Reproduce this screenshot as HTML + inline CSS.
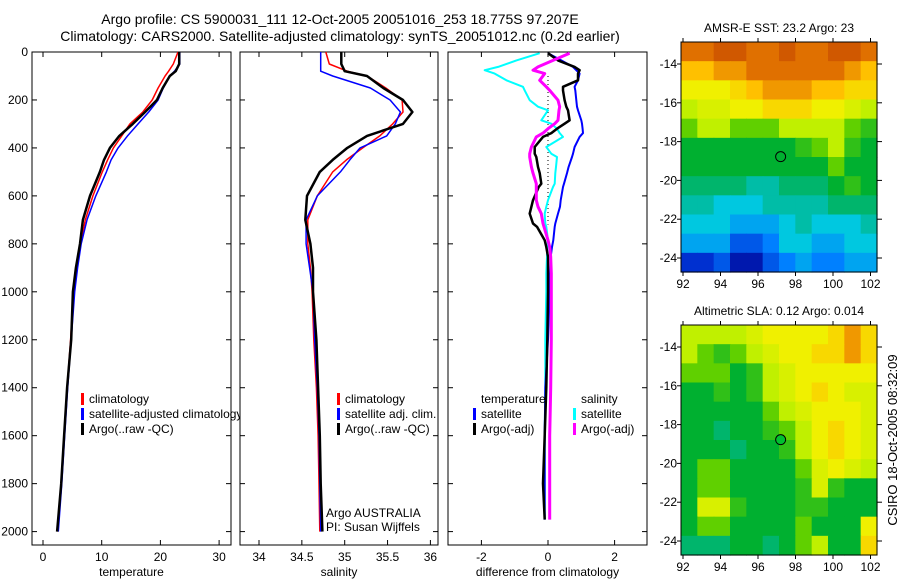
<!DOCTYPE html>
<html><head><meta charset="utf-8"><style>
html,body{margin:0;padding:0;background:#fff}
svg{display:block;font-family:"Liberation Sans",sans-serif}
</style></head><body>
<svg id="fig" width="900" height="580" viewBox="0 0 900 580" xmlns="http://www.w3.org/2000/svg">
<defs><clipPath id="c1"><rect x="32" y="0" width="208" height="580"/></clipPath></defs>
<text x="340" y="24" font-size="14" text-anchor="middle">Argo profile: CS 5900031_111 12-Oct-2005 20051016_253 18.775S 97.207E</text>
<text x="340" y="41" font-size="14" text-anchor="middle">Climatology: CARS2000. Satellite-adjusted climatology: synTS_20051012.nc (0.2d earlier)</text>
<g id="maps"></g>
<g id="panels"></g>
<text x="0" y="0" font-size="13" text-anchor="middle" transform="translate(897,440) rotate(-90)">CSIRO 18-Oct-2005 08:32:09</text>
</svg>
<script>
// ---------- profile data ----------
const depths = [0,50,80,100,150,200,250,300,350,400,450,500,600,700,800,900,1000,1200,1400,1600,1800,2000];
const tempClim = [23.0,22.2,21.4,20.8,19.6,18.6,17.0,14.8,13.4,12.0,11.0,10.1,8.5,7.2,6.4,5.8,5.2,4.7,4.1,3.6,3.1,2.5];
const tempSat  = [23.3,23.3,22.4,21.6,20.5,19.6,18.0,16.2,14.4,12.8,11.6,10.8,9.0,7.5,6.5,5.9,5.4,4.8,4.2,3.7,3.2,2.6];
const tempArgo = [23.2,23.2,22.6,21.6,20.4,19.4,17.4,15.3,13.0,11.4,10.4,9.7,8.0,6.8,6.3,5.6,5.1,4.8,4.1,3.6,3.1,2.4];
const salClim = [34.78,34.82,35.03,35.26,35.48,35.67,35.68,35.56,35.41,35.21,35.02,34.86,34.68,34.57,34.57,34.60,34.62,34.64,34.67,34.69,34.70,34.71];
const salSat  = [34.72,34.72,34.72,34.86,35.30,35.53,35.65,35.59,35.49,35.18,35.06,34.95,34.68,34.55,34.55,34.59,34.63,34.65,34.68,34.70,34.71,34.72];
const salArgo = [34.96,34.96,35.00,35.26,35.45,35.68,35.79,35.68,35.26,35.03,34.86,34.71,34.56,34.54,34.60,34.63,34.63,34.67,34.69,34.71,34.72,34.74];
const dDepths = [5,35,62,76,90,118,145,160,201,228,243,285,299,320,338,354,396,424,438,479,505,549,563,618,645,674,715,729,785,813,854,924,1000,1200,1400,1600,1800,1950];
const dTempSat  = [0.0,0.4,0.75,0.85,0.95,0.9,0.8,0.82,0.85,0.87,0.9,1.0,1.02,1.04,1.05,0.95,0.8,0.75,0.72,0.62,0.57,0.48,0.45,0.38,0.36,0.3,0.22,0.2,0.16,0.12,0.08,0.06,0.05,0.0,-0.08,-0.1,-0.1,-0.1];
const dTempArgo = [0.0,0.3,0.8,0.95,0.9,0.9,0.45,0.45,0.5,0.55,0.6,0.65,0.5,0.27,0.1,-0.15,-0.4,-0.4,-0.35,-0.3,-0.25,-0.2,-0.28,-0.45,-0.5,-0.55,-0.45,-0.33,-0.1,-0.05,0.0,0.0,0.0,-0.02,-0.05,-0.1,-0.15,-0.1];
const dSalSat   = [-0.25,-0.95,-1.5,-1.9,-1.6,-1.25,-0.75,-0.7,-0.55,-0.3,0.0,-0.2,0.1,0.27,0.35,0.45,-0.05,0.1,0.27,0.24,0.22,0.2,0.15,0.0,-0.05,-0.1,-0.08,-0.05,0.0,-0.02,-0.03,-0.05,-0.05,-0.08,-0.08,-0.1,-0.1,-0.1];
const dSalArgo  = [0.65,0.15,-0.3,-0.45,-0.1,-0.25,-0.05,0.05,0.3,0.35,0.33,0.3,0.2,0.0,-0.15,-0.35,-0.5,-0.55,-0.55,-0.5,-0.45,-0.35,-0.35,-0.35,-0.3,-0.2,-0.15,-0.12,0.0,0.05,0.08,0.1,0.1,0.1,0.08,0.05,0.05,0.05];
const depthTicks = [0,200,400,600,800,1000,1200,1400,1600,1800,2000];
const tempTicks = [0,10,20,30];
const salTicks = [34,34.5,35,35.5,36];
const diffTicks = [-2,0,2];
// ---------- map data (rows = lat 13..24, cols = lon 92..102.5), colour index 0..10 ----------
const sstGrid = [
[9,9,9.5,9.5,9,9,9.5,9,9,9.5,9.5,9],
[8,8,8.5,8.5,9,9,9,9,9,9,8.5,8],
[7,7,7,7.5,8,8.5,8.5,8.5,8,8,7.5,7.5],
[6,6.5,6.5,7,7,7.5,7.5,7.5,7,7,6.5,6],
[5.5,6,6,5.5,5.5,5.5,6,6,6,6,5.5,5],
[4.5,4.5,4.5,4.5,4.5,4.5,4.5,5,5.5,6,5,4.5],
[4.5,4.5,4.5,4.5,4.5,4.5,4.5,4.5,4.5,5.5,4.5,4.5],
[4,4,4,4,3.5,3.5,4,4,4,4.5,5,4.5],
[3.5,3.5,3,3,3,3.5,3.5,3.5,3.5,4,4,4],
[3,3,3,2.5,2.5,2.5,3,3.5,3,3,3,3.5],
[2.5,2.5,2.5,1.5,1.5,2,3,3,2.5,2.5,3,3],
[1,1,1.5,0.5,0.5,1.5,2,2.5,2,2,2.5,2.5]];
const slaGrid = [
[6,6,6,6,6.5,7,7,7,7,7.5,8.5,7.5],
[6,5.5,5,5.5,6,6.5,7,7,7.5,7.5,8.5,7.5],
[5.5,5.5,5.5,4.5,5,6,6.5,7,7,7,7,7],
[4.5,4.5,5,4.5,5,6,6.5,7,7.5,7,6.5,6.5],
[4.5,4.5,4.5,4.5,4.5,5.5,6,6.5,7,7,7,6.5],
[4.5,4.5,4,4.5,4.5,5,5.5,6,7,7.5,7,6.5],
[4.5,4.5,4.5,4,4.5,4.5,5,6,7,7.5,7,6.5],
[4.5,5.5,5.5,4.5,4.5,4.5,4.5,5.5,6.5,7,6.5,6],
[4.5,5.5,5.5,4.5,4.5,4.5,4.5,5,6.5,5,4.5,4.5],
[4.5,6.5,6.5,5,4.5,4.5,4.5,5,5,4.5,4.5,4.5],
[4.5,5.5,5.5,4.5,4.5,4.5,4.5,5.5,4.5,4.5,4.5,7],
[4,4,4,4.5,4.5,4,4.5,5.5,6,4.5,4.5,7.5]];
const lonTicks = [92,94,96,98,100,102];
const latTicks = [14,16,18,20,22,24];
const argoLon = 97.207, argoLat = 18.775;

const NS="http://www.w3.org/2000/svg";
function mk(tag, attrs, parent, txt){const e=document.createElementNS(NS,tag);for(const k in attrs)e.setAttribute(k,attrs[k]);if(txt!==undefined)e.textContent=txt;parent.appendChild(e);return e;}
const yD = d => 52 + 0.2398*d;
const panelsG = document.getElementById('panels');

function panel(name, x0, x1, xf, ticks, fmt, label){
  const g = mk('g',{},panelsG);
  
  
  const r = mk('rect',{x:x0,y:52,width:x1-x0,height:493,fill:'#fff',stroke:'#000','stroke-width':1},g);
  
  
  ticks.forEach(t=>{const x=xf(t);
    mk('line',{x1:x,x2:x,y1:52,y2:57,stroke:'#000'},g);
    mk('line',{x1:x,x2:x,y1:545,y2:540,stroke:'#000'},g);
    const tl = mk('text',{x:x,y:561,'font-size':12,'text-anchor':'middle'},g,fmt(t));
    
    
  });
  depthTicks.forEach(d=>{const y=yD(d);
    mk('line',{x1:x0,x2:x0+5,y1:y,y2:y,stroke:'#000'},g);
    mk('line',{x1:x1,x2:x1-5,y1:y,y2:y,stroke:'#000'},g);
  });
  const xl = mk('text',{x:(x0+x1)/2,y:576,'font-size':12,'text-anchor':'middle'},g,label);
  
  
  return g;
}
function series(g, xs, ds, xf, color, w, name){
  const pts = xs.map((v,i)=>xf(v).toFixed(1)+','+yD(ds[i]).toFixed(1)).join(' ');
  const p = mk('polyline',{points:pts,fill:'none',stroke:color,'stroke-width':w,'stroke-linejoin':'round'},g);
  
  
}
function legendRow(g,x,y,color,txt,clip){
  if(color) mk('rect',{x:x,y:y-10,width:3,height:12,fill:color},g);
  const t = mk('text',{x:x+8,y:y,'font-size':12},g,txt);
  
  
  if(clip) t.setAttribute('clip-path','url(#c1)');
}
// Y tick labels
depthTicks.forEach(d=>{
  const t = mk('text',{x:28,y:yD(d)+4,'font-size':12,'text-anchor':'end'},panelsG,String(d));
  
  
});
// Panel 1 temperature
const xT = t => 43 + 5.87*t;
const g1 = panel('temperature-panel',32,231,xT,tempTicks,String,'temperature');
series(g1,tempClim,depths,xT,'#f00',1.5,'temp-climatology-line');
series(g1,tempSat,depths,xT,'#00f',1.5,'temp-satellite-line');
series(g1,tempArgo,depths,xT,'#000',2.5,'temp-argo-line');
legendRow(g1,81,403,'#f00','climatology');
legendRow(g1,81,418,'#00f','satellite-adjusted climatology',true);
legendRow(g1,81,433,'#000','Argo(..raw -QC)');
// Panel 2 salinity
const xS = s => 259 + 85.7*(s-34);
const g2 = panel('salinity-panel',240,438,xS,salTicks,String,'salinity');
series(g2,salClim,depths,xS,'#f00',1.5,'sal-climatology-line');
series(g2,salSat,depths,xS,'#00f',1.5,'sal-satellite-line');
series(g2,salArgo,depths,xS,'#000',2.5,'sal-argo-line');
legendRow(g2,337,403,'#f00','climatology');
legendRow(g2,337,418,'#00f','satellite adj. clim.');
legendRow(g2,337,433,'#000','Argo(..raw -QC)');
mk('text',{x:326,y:517,'font-size':12},g2,'Argo AUSTRALIA');
mk('text',{x:326,y:531,'font-size':12},g2,'PI: Susan Wijffels');
// Panel 3 differences
const xDf = v => 548 + 33.3*v;
const g3 = panel('difference-panel',448,647,xDf,diffTicks,String,'difference from climatology');
mk('line',{x1:548,x2:548,y1:yD(100),y2:yD(720),stroke:'#000','stroke-dasharray':'1,3'},g3);
series(g3,dSalSat,dDepths,xDf,'#0ff',2,'sal-satellite-diff-line');
series(g3,dTempSat,dDepths,xDf,'#00f',2,'temp-satellite-diff-line');
series(g3,dTempArgo,dDepths,xDf,'#000',2.5,'temp-argo-diff-line');
series(g3,dSalArgo,dDepths,xDf,'#f0f',3,'sal-argo-diff-line');
legendRow(g3,473,403,null,'temperature');
legendRow(g3,473,418,'#00f','satellite');
legendRow(g3,473,433,'#000','Argo(-adj)');
legendRow(g3,573,403,null,'salinity');
legendRow(g3,573,418,'#0ff','satellite');
legendRow(g3,573,433,'#f0f','Argo(-adj)');

// ---------- maps ----------
const stops=[[0,[0,0,140]],[1,[0,48,208]],[2,[0,128,255]],[3,[0,200,224]],[3.7,[0,184,144]],[4.5,[0,176,48]],[5.5,[96,208,0]],[6,[192,240,0]],[7,[240,240,0]],[8,[255,192,0]],[9,[224,112,0]],[10,[192,64,0]]];
function cmap(v){for(let i=1;i<stops.length;i++){if(v<=stops[i][0]){const a=stops[i-1],b=stops[i],f=(v-a[0])/(b[0]-a[0]);const c=a[1].map((x,k)=>Math.round(x+(b[1][k]-x)*f));return `rgb(${c})`;}}return 'rgb(192,64,0)';}
const mapsG=document.getElementById('maps');
function mapPanel(name,top,grid,title,filled){
  const g=mk('g',{},mapsG);
  
  
  const X0=681,X1=877,Y0=top,Y1=top+230;
  const cw=(X1-X0)/grid[0].length, ch=(Y1-Y0)/grid.length;
  grid.forEach((row,r)=>row.forEach((v,c)=>{
    const cell=mk('rect',{x:(X0+c*cw).toFixed(2),y:(Y0+r*ch).toFixed(2),width:(cw+0.6).toFixed(2),height:(ch+0.6).toFixed(2),fill:cmap(v)},g);
    
    
  }));
  mk('rect',{x:X0,y:Y0,width:X1-X0,height:Y1-Y0,fill:'none',stroke:'#000'},g);
  const lonX = l => 683 + (l-92)*18.75;
  const latY = l => top + 22 + (l-14)*19.4;
  lonTicks.forEach(l=>{const x=lonX(l);
    mk('line',{x1:x,x2:x,y1:Y0,y2:Y0-4,stroke:'#000'},g);
    mk('line',{x1:x,x2:x,y1:Y1,y2:Y1+4,stroke:'#000'},g);
    const t=mk('text',{x:x,y:Y1+16,'font-size':12,'text-anchor':'middle'},g,String(l));
    
    
  });
  latTicks.forEach(l=>{const y=latY(l);
    mk('line',{x1:X0,x2:X0-4,y1:y,y2:y,stroke:'#000'},g);
    mk('line',{x1:X1,x2:X1+5,y1:y,y2:y,stroke:'#000'},g);
    const t=mk('text',{x:X0-4,y:y+4,'font-size':12,'text-anchor':'end'},g,'-'+l);
    
    
  });
  const tt=mk('text',{x:779,y:top-10,'font-size':12,'text-anchor':'middle'},g,title);
  
  
  const m=mk('circle',{cx:lonX(argoLon),cy:latY(argoLat),r:5,fill:filled?'#00c030':'none',stroke:'#000','stroke-width':1},g);
  
  
}
mapPanel('sst-map',42,sstGrid,'AMSR-E SST: 23.2 Argo: 23',false);
mapPanel('sla-map',325,slaGrid,'Altimetric SLA: 0.12 Argo: 0.014',true);
</script>
</body></html>
